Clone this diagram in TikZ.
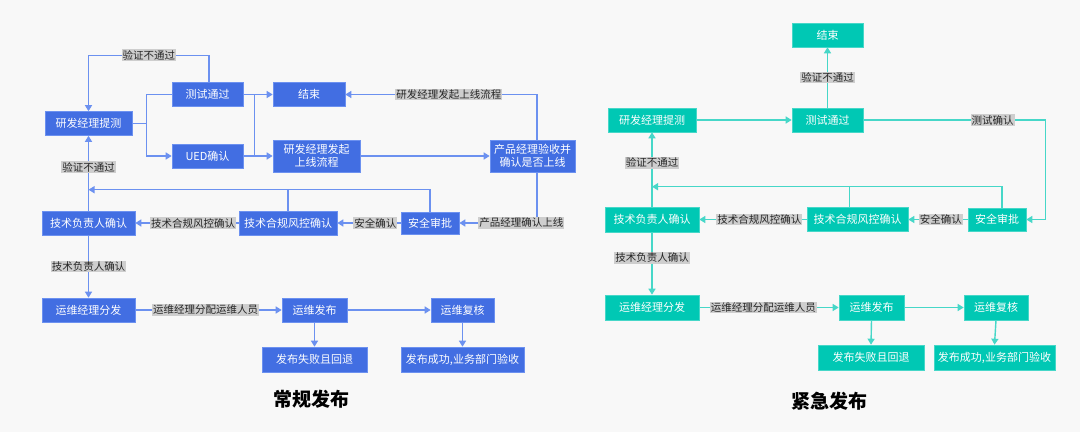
\documentclass[tikz,border=0pt]{standalone}
\usepackage{fontspec}
\setmainfont{Noto Sans CJK SC}
\usepackage{tikz}
\usetikzlibrary{arrows.meta}

\definecolor{bgc}{RGB}{248,248,248}
\definecolor{bluebox}{RGB}{66,110,226}
\definecolor{blueline}{RGB}{108,145,240}
\definecolor{tealbox}{RGB}{0,200,180}
\definecolor{tealline}{RGB}{70,215,200}
\definecolor{lblgray}{RGB}{206,206,206}

\tikzset{
  box/.style={rectangle, text=white, font=\fontsize{11}{13}\selectfont,
    inner sep=1pt, minimum height=24pt, align=center, line width=0.6pt},
  bbox/.style={box, fill=bluebox, draw=blueline},
  tbox/.style={box, fill=tealbox, draw=tealline},
  lbl/.style={fill=lblgray, text=black!85, font=\fontsize{10.5}{12}\selectfont, inner sep=1pt},
  bline/.style={draw=blueline, line width=1.4pt},
  tline/.style={draw=tealline, line width=1.4pt},
  tip/.style={-{Triangle[length=6pt,width=7pt]}}
}

\begin{document}
\begin{tikzpicture}[x=1pt, y=-1pt]
  \fill[bgc] (0,0) rectangle (1080,432);
  \useasboundingbox (0,0) rectangle (1080,432);

  % 常规发布
  \node[bbox, minimum width=87pt] (lreq) at (88.5,123.5) {研发经理提测};
  \node[bbox, minimum width=71pt] (ltest) at (207.5,94.5) {测试通过};
  \node[bbox, minimum width=71pt] (lued) at (207.5,156) {UED确认};
  \node[bbox, minimum width=72pt] (lend) at (309,94.5) {结束};
  \node[bbox, minimum width=87pt, minimum height=32pt] (llaunch) at (316.5,156) {研发经理发起\\上线流程};
  \node[bbox, minimum width=85pt, minimum height=32pt] (lprod) at (532.5,156) {产品经理验收并\\确认是否上线};
  \node[bbox, minimum width=58pt, minimum height=22pt] (lsafe) at (430,223) {安全审批};
  \node[bbox, minimum width=98pt] (lrisk) at (288,223) {技术合规风控确认};
  \node[bbox, minimum width=93pt] (llead) at (88.5,223) {技术负责人确认};
  \node[bbox, minimum width=93pt] (lops) at (88.5,310) {运维经理分发};
  \node[bbox, minimum width=65pt] (lrel) at (314.5,310) {运维发布};
  \node[bbox, minimum width=63pt] (lrev) at (462.5,310) {运维复核};
  \node[bbox, minimum width=105pt, minimum height=25pt] (lfail) at (314.5,359.5) {发布失败且回退};
  \node[bbox, minimum width=123pt, minimum height=25pt] (lok) at (462.5,359.5) {发布成功,业务部门验收};

  \draw[bline, tip] ([xshift=1.5pt]ltest.north) -- ++(0,-27) -| node[lbl, pos=0.25] {验证不通过} (lreq.north);
  \draw[bline] (lreq.east) -- ++(14,0) |- (ltest.west);
  \draw[bline, tip] (lreq.east) -- ++(14,0) |- (lued.west);
  \draw[bline, tip] (ltest.east) -- ++(11,0) |- (lend.west);
  \draw[bline, tip] (ltest.east) -- ++(11,0) |- (llaunch.west);
  \draw[bline] (lued.east) -- ++(11,0);
  \draw[bline, tip] (llaunch.east) -- (lprod.west);
  \draw[bline, tip] ([xshift=4.5pt]lprod.north) |- node[lbl, pos=0.73] {研发经理发起上线流程} (lend.east);
  \draw[bline, tip] ([xshift=4.5pt]lprod.south) |- node[lbl, pos=0.6] {产品经理确认上线} (lsafe.east);
  \draw[bline, tip] (lsafe.west) -- node[lbl, pos=0.4] {安全确认} (lrisk.east);
  \draw[bline, tip] (lrisk.west) -- node[lbl, pos=0.44] {技术合规风控确认} (llead.east);
  \draw[bline, tip] (lsafe.north) |- ([yshift=21pt]llead.north);
  \draw[bline] (lrisk.north) -- ++(0,-22);
  \draw[bline, tip] (llead.north) -- node[lbl, pos=0.58] {验证不通过} (lreq.south);
  \draw[bline, tip] (llead.south) -- node[lbl, pos=0.5] {技术负责人确认} (lops.north);
  \draw[bline, tip] (lops.east) -- node[lbl, pos=0.48] {运维经理分配运维人员} (lrel.west);
  \draw[bline, tip] (lrel.east) -- (lrev.west);
  \draw[bline, tip] (lrel.south) -- (lfail.north);
  \draw[bline, tip] (lrev.south) -- (lok.north);

  \node[font=\fontsize{19}{22}\selectfont\bfseries] (ltitle) at (311,399) {常规发布};

  % 紧急发布
  \node[tbox, minimum width=71pt] (rend) at (827.5,35) {结束};
  \node[tbox, minimum width=71pt] (rtest) at (827.5,120) {测试通过};
  \node[tbox, minimum width=88pt] (rreq) at (652,120) {研发经理提测};
  \node[tbox, minimum width=58pt, minimum height=23pt] (rsafe) at (997,219.5) {安全审批};
  \node[tbox, minimum width=101pt] (rrisk) at (857.5,219.5) {技术合规风控确认};
  \node[tbox, minimum width=94pt, minimum height=25pt] (rlead) at (652,219.5) {技术负责人确认};
  \node[tbox, minimum width=94pt, minimum height=25pt] (rops) at (652,307.5) {运维经理分发};
  \node[tbox, minimum width=65pt, minimum height=25pt] (rrel) at (871.5,307.5) {运维发布};
  \node[tbox, minimum width=64pt, minimum height=25pt] (rrev) at (996,307.5) {运维复核};
  \node[tbox, minimum width=106pt, minimum height=25pt] (rfail) at (871,357.5) {发布失败且回退};
  \node[tbox, minimum width=121pt, minimum height=25pt] (rok) at (994.5,357.5) {发布成功,业务部门验收};

  \draw[tline, tip] (rreq.east) -- (rtest.west);
  \draw[tline, tip] (rtest.north) -- node[lbl, pos=0.5] {验证不通过} (rend.south);
  \draw[tline, tip] (rtest.east) -- node[lbl, pos=0.71] {测试确认} ++(182,0) |- (rsafe.east);
  \draw[tline, tip] (rsafe.west) -- node[lbl, pos=0.45] {安全确认} (rrisk.east);
  \draw[tline, tip] (rrisk.west) -- node[lbl, pos=0.44] {技术合规风控确认} (rlead.east);
  \draw[tline, tip] ([xshift=5pt]rsafe.north) |- ([yshift=20pt]rlead.north);
  \draw[tline] ([xshift=-8pt]rrisk.north) -- ++(0,-21);
  \draw[tline, tip] (rlead.north) -- node[lbl, pos=0.59] {验证不通过} (rreq.south);
  \draw[tline, tip] (rlead.south) -- node[lbl, pos=0.41] {技术负责人确认} (rops.north);
  \draw[tline, tip] (rops.east) -- node[lbl, pos=0.46] {运维经理分配运维人员} (rrel.west);
  \draw[tline, tip] (rrel.east) -- (rrev.west);
  \draw[tline, tip] (rrel.south) -- (rfail.north);
  \draw[tline, tip] (rrev.south) -- (rok.north);

  \node[font=\fontsize{19}{22}\selectfont\bfseries] (rtitle) at (829,401) {紧急发布};
\end{tikzpicture}
\end{document}
